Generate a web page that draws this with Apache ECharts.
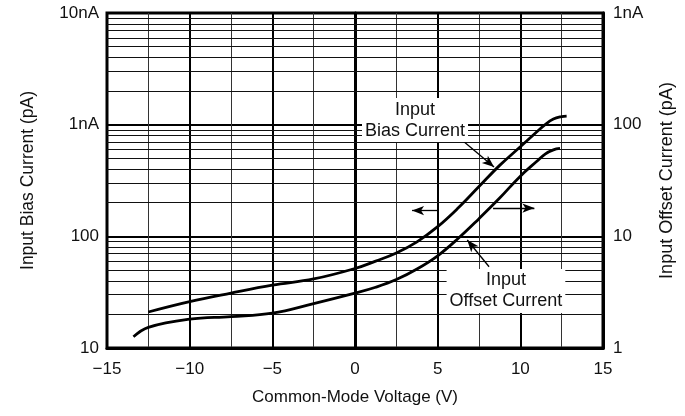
<!DOCTYPE html>
<html>
<head>
<meta charset="utf-8">
<script src="https://cdn.jsdelivr.net/npm/echarts@6/dist/echarts.min.js"></script>
<style>
html,body{margin:0;padding:0;background:#fff;}
#c{width:685px;height:416px;}
</style>
</head>
<body>
<div id="c"></div>
<script>
// ---- data ----
var biasX   = [-12.5, -10, -7.5, -5, -2.5, 0, 1.25, 2.5, 3.75, 5, 6.25, 7.5, 8.75, 10, 11, 11.5, 12, 12.5, 12.8];
var biasY   = [21, 26, 31, 36.5, 41.5, 51.5, 60, 71, 89.3, 122, 180, 279, 432, 634, 863, 1002, 1122, 1181, 1195]; // pA, left axis
var offsetX = [-13.4, -12.5, -10, -7.5, -5, -2.5, 0, 1.25, 2.5, 3.75, 5, 6.25, 7.5, 8.75, 10, 11, 11.5, 12, 12.4];
var offsetY = [1.26, 1.53, 1.81, 1.91, 2.05, 2.5, 3.1, 3.5, 4.1, 5.1, 6.7, 9.6, 14.4, 22, 34.6, 47, 54.5, 59.5, 61.2]; // pA, right axis

var xTicks = [-15, -10, -5, 0, 5, 10, 15];
var leftTickValues  = [10, 100, 1000, 10000];
var leftTickLabels  = ['10', '100', '1nA', '10nA'];
var rightTickValues = [1, 10, 100, 1000];
var rightTickLabels = ['1', '10', '100', '1nA'];
var minorGridLeft = [20,30,40,50,60,70,80,90,200,300,400,500,600,700,800,900,2000,3000,4000,5000,6000,7000,8000,9000];

// annotation anchors in data units
var biasLabel   = {x: 3.63, y: 1099, text: 'Input\nBias Current'};          // left axis
var offsetLabel = {x: 9.13, y: 3.24, text: 'Input\nOffset Current'};        // right axis
var biasLeader   = [[6.59, 703], [8.41, 417]];     // left axis
var offsetLeader = [[8.11, 5.34], [6.79, 9.27]];   // right axis
var leftArrow  = [[5.0, 170], [3.45, 170]];        // left axis
var rightArrow = [[8.35, 17.9], [10.85, 17.9]];    // right axis

function zip(a, b) { return a.map(function (v, i) { return [v, b[i]]; }); }
function lookup(vals, labels, v) {
  for (var i = 0; i < vals.length; i++) if (Math.abs(vals[i] - v) / vals[i] < 1e-6) return labels[i];
  return '';
}

var FONT = 'Liberation Sans, Arial, Helvetica, sans-serif';
var chart = echarts.init(document.getElementById('c'));

var arrowLine = function (pts) {
  return [{coord: pts[0], symbol: 'none'}, {coord: pts[1], symbol: 'arrow', symbolSize: [7, 12]}];
};

chart.setOption({
  animation: false,
  backgroundColor: '#fff',
  grid: {left: 107, right: 82, top: 13, bottom: 68, show: true, borderColor: '#000', borderWidth: 3, backgroundColor: 'transparent'},
  xAxis: {
    type: 'value', min: -15, max: 15, interval: 5,
    name: 'Common-Mode Voltage (V)', nameLocation: 'middle', nameGap: 41,
    nameTextStyle: {fontFamily: FONT, fontSize: 17, color: '#111'},
    axisLine: {show: true, lineStyle: {color: '#000', width: 3}},
    axisTick: {show: false},
    axisLabel: {fontFamily: FONT, fontSize: 17, color: '#111', margin: 13,
      formatter: function (v) { return v < 0 ? '\u2212' + Math.abs(v) : String(v); }},
    splitLine: {show: true, lineStyle: {color: '#000', width: 2}},
    minorTick: {show: false, splitNumber: 2},
    minorSplitLine: {show: true, lineStyle: {color: '#333', width: 1}}
  },
  yAxis: [{
    type: 'log', logBase: 10, min: 10, max: 10000,
    name: 'Input Bias Current (pA)', nameLocation: 'middle', nameGap: 70, nameRotate: 90,
    nameTextStyle: {fontFamily: FONT, fontSize: 17.5, color: '#111'},
    axisLine: {show: true, lineStyle: {color: '#000', width: 3}},
    axisTick: {show: false},
    axisLabel: {fontFamily: FONT, fontSize: 17, color: '#111', margin: 8,
      formatter: function (v) { return lookup(leftTickValues, leftTickLabels, v); }},
    splitLine: {show: true, lineStyle: {color: '#000', width: 2}}
  }, {
    type: 'log', logBase: 10, min: 1, max: 1000, position: 'right',
    name: 'Input Offset Current (pA)', nameLocation: 'middle', nameGap: 55, nameRotate: 90,
    nameTextStyle: {fontFamily: FONT, fontSize: 18, color: '#111'},
    axisLine: {show: true, lineStyle: {color: '#000', width: 3}},
    axisTick: {show: false},
    axisLabel: {fontFamily: FONT, fontSize: 17, color: '#111', margin: 10,
      formatter: function (v) { return lookup(rightTickValues, rightTickLabels, v); }},
    splitLine: {show: false}
  }],
  series: [{
    type: 'line', name: 'grid', yAxisIndex: 0, z: 1, silent: true,
    data: [[-15, 10]], symbol: 'none', lineStyle: {opacity: 0},
    markLine: {
      silent: true, symbol: 'none', animation: false,
      label: {show: false},
      lineStyle: {color: '#111', width: 1, type: 'solid'},
      data: minorGridLeft.map(function (v) { return {yAxis: v}; })
    }
  }, {
    type: 'line', name: 'Input Bias Current', yAxisIndex: 0, z: 5,
    data: zip(biasX, biasY), symbol: 'none', smooth: 0.4,
    lineStyle: {color: '#000', width: 2.8},
    markLine: {
      silent: true, animation: false, label: {show: false},
      lineStyle: {color: '#000', width: 1.3, type: 'solid'},
      data: [arrowLine(biasLeader), arrowLine(leftArrow)]
    }
  }, {
    type: 'line', name: 'Input Offset Current', yAxisIndex: 1, z: 5,
    data: zip(offsetX, offsetY), symbol: 'none', smooth: 0.4,
    lineStyle: {color: '#000', width: 2.8},
    markLine: {
      silent: true, animation: false, label: {show: false},
      lineStyle: {color: '#000', width: 1.3, type: 'solid'},
      data: [arrowLine(offsetLeader), arrowLine(rightArrow)]
    }
  }]
});

function placeLabels() {
  var p1 = chart.convertToPixel({xAxisIndex: 0, yAxisIndex: 0}, [biasLabel.x, biasLabel.y]);
  var p2 = chart.convertToPixel({xAxisIndex: 0, yAxisIndex: 1}, [offsetLabel.x, offsetLabel.y]);
  function txt(p, t) {
    return {
      type: 'text', x: p[0], y: p[1], z: 10,
      style: {text: t, fill: '#111', font: '18px ' + FONT, align: 'center', verticalAlign: 'middle',
        lineHeight: 21, backgroundColor: '#fff', padding: [1, 3, 1, 3]}
    };
  }
  chart.setOption({graphic: [txt(p1, biasLabel.text), txt(p2, offsetLabel.text)]});
}
placeLabels();
</script>
</body>
</html>
